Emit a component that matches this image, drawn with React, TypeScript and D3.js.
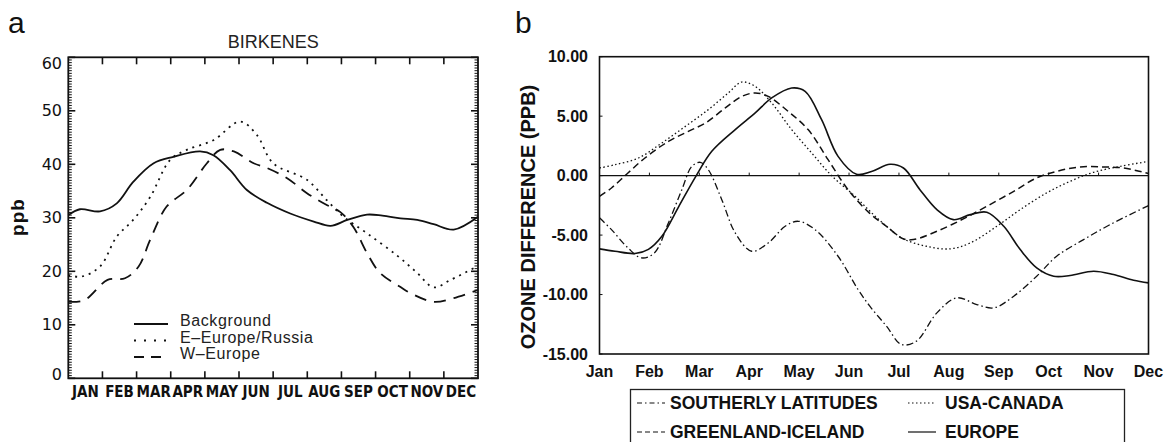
import React from "react";
import * as d3 from "d3";

// ---------- Panel a data (BIRKENES) ----------
const monthsA = ["JAN", "FEB", "MAR", "APR", "MAY", "JUN", "JUL", "AUG", "SEP", "OCT", "NOV", "DEC"];
const yTicksA = [0, 10, 20, 30, 40, 50, 60];

const bgX = [0, 0.34, 0.93, 1.42, 1.9, 2.5, 3.08, 3.86, 4.25, 4.74, 5.23, 5.82, 6.5, 7.19, 7.68, 8.17, 8.75, 9.2, 9.73, 10.22, 10.7, 11.29, 12];
const bgY = [30.5, 31.6, 31.2, 32.7, 36.7, 40.2, 41.4, 42.4, 41.7, 38.9, 35.2, 32.8, 30.8, 29.3, 28.5, 29.6, 30.6, 30.4, 29.9, 29.6, 28.8, 27.8, 30.2];

const eeX = [0, 0.38, 0.93, 1.42, 1.9, 2.4, 2.98, 3.47, 4.25, 5.03, 5.52, 6.0, 6.99, 7.57, 8.06, 8.75, 9.62, 10.22, 10.7, 11.2, 12];
const eeY = [19.3, 19.0, 20.9, 26.5, 29.6, 33.9, 40.8, 42.7, 44.5, 48.0, 45.5, 40.2, 37.1, 33.3, 30.2, 27.1, 23.0, 19.7, 17.0, 18.4, 21.0];

const weX = [0, 0.47, 1.15, 1.66, 2.06, 2.4, 2.88, 3.47, 4.06, 4.45, 4.85, 5.43, 5.82, 6.41, 6.99, 7.57, 7.96, 8.35, 8.75, 9.13, 9.72, 10.03, 10.7, 11.29, 12];
const weY = [14.3, 14.6, 18.4, 18.7, 20.9, 25.9, 32.1, 35.2, 40.2, 42.7, 42.4, 40.2, 39.3, 37.4, 34.6, 32.4, 31.1, 28.3, 23.4, 19.7, 17.1, 15.9, 14.3, 15.0, 16.5];

const legendA = ["Background", "E\u2013Europe/Russia", "W\u2013Europe"];

// ---------- Panel b data (ozone difference) ----------
const monthsB = ["Jan", "Feb", "Mar", "Apr", "May", "Jun", "Jul", "Aug", "Sep", "Oct", "Nov", "Dec"];
const yTicksB = [10, 5, 0, -5, -10, -15];

const euX = [0, 0.31, 0.71, 0.98, 1.25, 1.59, 1.93, 2.25, 2.72, 3.12, 3.45, 3.85, 4.12, 4.45, 4.78, 5.15, 5.45, 5.82, 6.09, 6.42, 6.76, 7.09, 7.43, 7.76, 8.1, 8.43, 8.76, 9.1, 9.43, 9.9, 10.3, 10.7, 11];
const euY = [-6.16, -6.36, -6.55, -6.2, -5.1, -2.58, -0.06, 2.04, 3.87, 5.27, 6.53, 7.37, 7.09, 4.7, 1.62, 0.12, 0.35, 0.95, 0.64, -1.18, -2.86, -3.7, -3.28, -3.08, -4.26, -6.22, -7.76, -8.46, -8.4, -8.04, -8.32, -8.8, -9.02];

const usX = [0, 0.31, 0.78, 1.25, 1.72, 2.18, 2.58, 2.85, 3.12, 3.45, 3.85, 4.25, 4.65, 5.12, 5.42, 5.75, 6.09, 6.55, 7.02, 7.43, 7.96, 8.43, 8.96, 9.43, 9.9, 10.44, 11];
const usY = [0.64, 0.92, 1.48, 2.75, 4.14, 5.55, 6.95, 7.87, 7.5, 6.11, 3.87, 1.91, 0, -1.74, -3.0, -4.26, -5.32, -5.94, -6.16, -5.66, -4.26, -2.86, -1.45, -0.48, 0.28, 0.78, 1.2];

const grX = [0, 0.24, 0.57, 0.91, 1.38, 1.78, 2.12, 2.52, 2.85, 3.12, 3.38, 3.78, 4.18, 4.58, 4.98, 5.42, 5.75, 6.09, 6.29, 6.76, 7.29, 7.76, 8.3, 8.76, 9.16, 9.63, 10.1, 10.5, 11];
const grY = [-1.74, -1.04, 0.22, 1.48, 2.88, 3.72, 4.42, 5.69, 6.66, 6.95, 6.66, 5.4, 3.87, 1.34, -1.18, -3.2, -4.26, -5.32, -5.38, -4.68, -3.64, -2.58, -1.32, -0.19, 0.36, 0.73, 0.73, 0.64, 0.17];

const soX = [0, 0.24, 0.57, 0.84, 1.1, 1.38, 1.65, 1.85, 2.02, 2.18, 2.45, 2.72, 3.05, 3.38, 3.72, 3.98, 4.32, 4.78, 5.18, 5.42, 5.75, 6.05, 6.35, 6.76, 7.16, 7.56, 7.9, 8.3, 8.76, 9.16, 9.7, 10.23, 11];
const soY = [-3.55, -4.54, -6.08, -6.92, -6.5, -3.98, -1.18, 0.78, 1.12, 0.5, -2.02, -4.82, -6.36, -5.66, -4.26, -3.84, -4.54, -6.78, -9.58, -11.0, -12.66, -14.2, -13.92, -11.54, -10.28, -10.84, -11.12, -10.14, -8.46, -6.78, -5.38, -4.12, -2.52];

const legendB = ["SOUTHERLY LATITUDES", "GREENLAND-ICELAND", "USA-CANADA", "EUROPE"];

const zip = (xs: number[], ys: number[]) => xs.map((x, i) => [x, ys[i]] as [number, number]);

export default function App() {
  // ----- Panel a scales -----
  const xa = d3.scaleLinear().domain([0, 12]).range([68.3, 478]);
  const ya = d3.scaleLinear().domain([0, 60]).range([378.3, 57.3]);
  const lineA = d3
    .line<[number, number]>()
    .x((d) => xa(d[0]))
    .y((d) => ya(d[1]))
    .curve(d3.curveCatmullRom.alpha(0.5));

  const minorA = d3.range(0, 60.01, 0.5);

  // ----- Panel b scales -----
  const xb = d3.scaleLinear().domain([0, 11]).range([599.5, 1148.5]);
  const yb = d3.scaleLinear().domain([-15, 10]).range([354, 56.7]);
  const lineB = d3
    .line<[number, number]>()
    .x((d) => xb(d[0]))
    .y((d) => yb(d[1]))
    .curve(d3.curveCatmullRom.alpha(0.5));

  const fontA = "'Liberation Sans', Arial, sans-serif";
  const fontB = "'Liberation Sans', Arial, sans-serif";

  const seriesA = [
    { name: legendA[0], d: zip(bgX, bgY), dash: "none", w: 1.8 },
    { name: legendA[1], d: zip(eeX, eeY), dash: "2,5", w: 1.8 },
    { name: legendA[2], d: zip(weX, weY), dash: "12,8", w: 1.8 },
  ];

  const seriesB = [
    { name: legendB[0], d: zip(soX, soY), dash: "7,3,1.5,3", w: 1.3 },
    { name: legendB[1], d: zip(grX, grY), dash: "7,4", w: 1.5 },
    { name: legendB[2], d: zip(usX, usY), dash: "1.5,2.5", w: 1.3 },
    { name: legendB[3], d: zip(euX, euY), dash: "none", w: 1.6 },
  ];

  return (
    <svg
      width={1167}
      height={442}
      style={{ position: "absolute", left: 0, top: 0, background: "#fff" }}
    >
      {/* ================= Panel a ================= */}
      <text x={8} y={33} fontFamily={fontA} fontSize={30} fill="#111">a</text>
      <text x={(xa(0) + xa(12)) / 2} y={48} textAnchor="middle" fontFamily={fontA} fontSize={18} fill="#222">
        BIRKENES
      </text>

      {/* minor/major y ticks left & right */}
      {minorA.map((v) => {
        const major = Math.abs(v % 10) < 1e-6;
        const len = major ? 7 : 3.5;
        return (
          <g key={"ma" + v} stroke="#111" strokeWidth={major ? 1.6 : 1}>
            <line x1={xa(0)} x2={xa(0) + len} y1={ya(v)} y2={ya(v)} />
            <line x1={xa(12)} x2={xa(12) - len} y1={ya(v)} y2={ya(v)} />
          </g>
        );
      })}
      {/* month ticks top & bottom */}
      {d3.range(1, 12).map((m) => (
        <g key={"mt" + m} stroke="#111" strokeWidth={1.6}>
          <line x1={xa(m)} x2={xa(m)} y1={ya(0)} y2={ya(0) - 7} />
          <line x1={xa(m)} x2={xa(m)} y1={ya(60)} y2={ya(60) + 7} />
        </g>
      ))}
      <rect x={xa(0)} y={ya(60)} width={xa(12) - xa(0)} height={ya(0) - ya(60)} fill="none" stroke="#111" strokeWidth={1.8} />

      {yTicksA.map((v) => (
        <text
          key={"yla" + v}
          x={62}
          y={ya(v) + (v === 60 ? 6 : v === 0 ? -4 : 0)}
          textAnchor="end"
          dominantBaseline="central"
          fontFamily="'DejaVu Sans', sans-serif"
          fontSize={16}
          fill="#111"
        >
          {v}
        </text>
      ))}
      {monthsA.map((m, i) => (
        <text
          key={"xla" + m}
          x={xa(i + 0.5)}
          y={397}
          textAnchor="middle"
          fontFamily="'DejaVu Sans Condensed', 'DejaVu Sans', sans-serif"
          fontStretch="condensed"
          fontWeight="bold"
          fontSize={15}
          fill="#111"
        >
          {m}
        </text>
      ))}
      <text
        transform={`translate(24, 217) rotate(-90)`}
        textAnchor="middle"
        fontFamily={fontA}
        fontWeight="bold"
        fontSize={19}
        letterSpacing={1}
        fill="#111"
      >
        ppb
      </text>

      {seriesA.map((s) => (
        <path key={s.name} d={lineA(s.d) || ""} fill="none" stroke="#111" strokeWidth={s.w} strokeDasharray={s.dash} />
      ))}

      {/* legend a */}
      {seriesA.map((s, i) => {
        const ly = 324 + i * 16.5;
        return (
          <g key={"lga" + i}>
            <line x1={134} x2={168} y1={ly} y2={ly} stroke="#111" strokeWidth={1.8} strokeDasharray={s.dash === "12,8" ? "10,7" : s.dash === "2,5" ? "2,8" : "none"} />
            <text x={180} y={ly + 2} fontFamily={fontA} fontSize={16} letterSpacing={0.6} fill="#222">
              {s.name}
            </text>
          </g>
        );
      })}

      {/* ================= Panel b ================= */}
      <text x={515} y={33} fontFamily={fontB} fontSize={30} fill="#111">b</text>

      <rect x={xb(0)} y={yb(10)} width={xb(11) - xb(0)} height={yb(-15) - yb(10)} fill="none" stroke="#111" strokeWidth={1.6} />
      <line x1={xb(0)} x2={xb(11)} y1={yb(0)} y2={yb(0)} stroke="#111" strokeWidth={1.4} />
      {d3.range(1, 11).map((m) => (
        <line key={"zt" + m} x1={xb(m)} x2={xb(m)} y1={yb(0)} y2={yb(0) - 3} stroke="#111" strokeWidth={1} />
      ))}
      {yTicksB.map((v) => (
        <g key={"ylb" + v}>
          <line x1={xb(0)} x2={xb(0) + 3} y1={yb(v)} y2={yb(v)} stroke="#111" strokeWidth={1} />
          <text
            x={588}
            y={yb(v)}
            textAnchor="end"
            dominantBaseline="central"
            fontFamily={fontB}
            fontWeight="bold"
            fontSize={16}
            fill="#111"
          >
            {v.toFixed(2)}
          </text>
        </g>
      ))}
      {monthsB.map((m, i) => (
        <text
          key={"xlb" + m}
          x={xb(i)}
          y={377}
          textAnchor="middle"
          fontFamily={fontB}
          fontWeight="bold"
          fontSize={16}
          fill="#111"
        >
          {m}
        </text>
      ))}
      <text
        transform={`translate(535, 217) rotate(-90)`}
        textAnchor="middle"
        fontFamily={fontB}
        fontWeight="bold"
        fontSize={20}
        fill="#111"
      >
        OZONE DIFFERENCE (PPB)
      </text>

      {seriesB.map((s) => (
        <path key={s.name} d={lineB(s.d) || ""} fill="none" stroke="#111" strokeWidth={s.w} strokeDasharray={s.dash} />
      ))}

      {/* legend b */}
      <rect x={630.5} y={389.5} width={494} height={70} fill="#fff" stroke="#222" strokeWidth={1.3} />
      {seriesB.map((s, i) => {
        const col = Math.floor(i / 2);
        const row = i % 2;
        const lx = col === 0 ? 637 : 908;
        const ly = 403 + row * 29;
        return (
          <g key={"lgb" + i}>
            <line x1={lx} x2={lx + 28} y1={ly} y2={ly} stroke="#111" strokeWidth={1.2}
              strokeDasharray={s.dash === "7,3,1.5,3" ? "5,3,1.5,3" : s.dash === "7,4" ? "5,3" : s.dash} />
            <text x={lx + (col === 0 ? 33 : 37)} y={ly + 6} fontFamily={fontB} fontWeight="bold" fontSize={17.5} fill="#111">
              {s.name}
            </text>
          </g>
        );
      })}
    </svg>
  );
}
